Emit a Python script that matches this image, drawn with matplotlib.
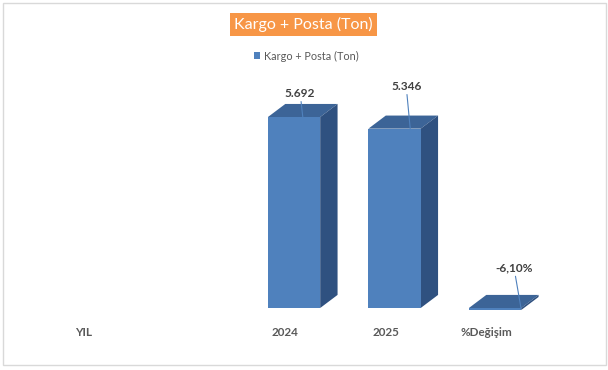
import matplotlib
matplotlib.use('Agg')
from matplotlib import pyplot as plt
from matplotlib.patches import Polygon, Rectangle

# data
categories = ["YIL", "", "2024", "2025", "%Değişim"]
values = [None, None, 5.692, 5.346, -0.061]
value_labels = [None, None, "5.692", "5.346", "-6,10%"]
series_name = "Kargo + Posta (Ton)"
title = "Kargo + Posta (Ton)"

# style
front_c = "#4F81BD"
top_c = "#3C6497"
side_c = "#2F5180"
bar_w = 0.52
bar_shift = 0.09
depth_x, depth_y = 0.173, 0.39
# leader end x (from category centre) and label offset in points
leader_dx = [None, None, 0.177, 0.246, 0.348]
label_off = [None, None, (-1.9, 17.1), (-2.9, 30.5), (-5.0, 28.8)]

plt.rcParams['font.family'] = ['Lato', 'DejaVu Sans']

fig = plt.figure(figsize=(6.08, 3.70), dpi=100)
ax = fig.add_axes([33.75 / 608, 62 / 370, 502.5 / 608, 234.85 / 370])
ax.set_xlim(-0.5, 4.5)
ax.set_ylim(0, 7)
ax.axis('off')

xs = list(range(len(categories)))
bx = [x + bar_shift for x, v in zip(xs, values) if v is not None]
bv = [v for v in values if v is not None]
bars = ax.bar(bx, bv, width=bar_w, color=front_c, label=series_name,
              zorder=3, clip_on=False)

for x, v in zip(bx, bv):
    left, right = x - bar_w / 2, x + bar_w / 2
    top = max(v, 0)
    bot = min(v, 0)
    ax.add_patch(Polygon([(left, top), (right, top),
                          (right + depth_x, top + depth_y),
                          (left + depth_x, top + depth_y)],
                         closed=True, fc=top_c, ec='none', zorder=2, clip_on=False))
    ax.add_patch(Polygon([(right, bot), (right, top),
                          (right + depth_x, top + depth_y),
                          (right + depth_x, bot + depth_y)],
                         closed=True, fc=side_c, ec='none', zorder=2, clip_on=False))

for x, v, lab, dx, off in zip(xs, values, value_labels, leader_dx, label_off):
    if v is None:
        continue
    ax.annotate(lab, xy=(x + dx, max(v, 0)), xytext=off, textcoords='offset points',
                ha='center', va='center', fontsize=8.6, fontweight='bold', color='#404040',
                annotation_clip=False, zorder=5,
                arrowprops=dict(arrowstyle='-', color='#4F81BD', lw=0.8,
                                shrinkA=0, shrinkB=0))

# category labels
for x, c in zip(xs, categories):
    ax.annotate(c, xy=(x, 0), xytext=(0, -17.3), textcoords='offset points',
                ha='center', va='center', fontsize=8.4, fontweight='bold',
                color='#595959', annotation_clip=False)

# title
fig.text(303.3 / 608, 1 - 24.3 / 370, title, ha='center', va='center',
         fontsize=11.5, color='white',
         bbox=dict(boxstyle='square,pad=0.25', fc='#F79646', ec='none'))

fig.legend(handles=[bars], labels=[series_name], loc='center',
           bbox_to_anchor=(306 / 608, 1 - 56 / 370), frameon=False,
           fontsize=7.8, handlelength=0.55, handleheight=0.55, handletextpad=0.35,
           labelcolor='#595959')

fig.patches.append(Rectangle((3 / 608, 5 / 370), 603 / 608, 362 / 370,
                             transform=fig.transFigure, fill=False,
                             ec='#D9D9D9', lw=1))

fig.savefig('out.png', dpi=100)
